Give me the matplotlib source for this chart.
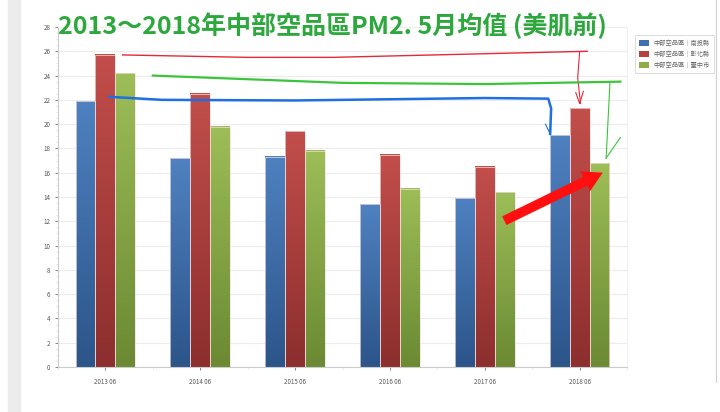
import numpy as np
import matplotlib
matplotlib.use("Agg")
import matplotlib.pyplot as plt
from matplotlib.colors import LinearSegmentedColormap
from matplotlib.lines import Line2D
from matplotlib.patches import Patch

plt.rcParams['font.family'] = ['Noto Sans CJK TC', 'DejaVu Sans']

months = ["2013 06", "2014 06", "2015 06", "2016 06", "2017 06", "2018 06"]
series_names = ["中部空品區｜南投縣", "中部空品區｜彰化縣", "中部空品區｜臺中市"]
nantou = [21.9, 17.2, 17.3, 13.4, 13.9, 19.1]
changhua = [25.7, 22.5, 19.4, 17.5, 16.5, 21.3]
taichung = [24.2, 19.8, 17.8, 14.7, 14.4, 16.8]
title = "2013～2018年中部空品區PM2. 5月均值 (美肌前)"

# (top colour, bottom colour) for the gradient bars
grad = [("#4f81c0", "#2c558a"), ("#c24e4b", "#8c2f2e"), ("#9cbd57", "#6b8a33")]
legend_cols = ["#3f6fae", "#b6403d", "#8cad48"]

fig = plt.figure(figsize=(7.2, 4.12), dpi=100)
# screenshot frame
fig.patches.append(plt.Rectangle((8 / 720, 0), 12 / 720, 1, transform=fig.transFigure,
                                 color="#ececec", zorder=0))
fig.lines.append(Line2D([716 / 720, 716 / 720], [1, 1 - 382 / 412], transform=fig.transFigure,
                        color="#d0d0d0", lw=0.8))

ax = fig.add_axes([58 / 720, 1 - 367 / 412, 569 / 720, 340 / 412])
x = np.arange(len(months))
w = 0.21
data = [nantou, changhua, taichung]
for i, vals in enumerate(data):
    cmap = LinearSegmentedColormap.from_list("g%d" % i, [grad[i][1], grad[i][0]])
    g = np.linspace(0, 1, 64).reshape(-1, 1)
    for xi, v in zip(x, vals):
        x0 = xi + (i - 1) * w - w / 2
        ax.imshow(g, cmap=cmap, extent=[x0, x0 + w, 0, v], origin="lower",
                  aspect="auto", zorder=2)
        ax.add_patch(plt.Rectangle((x0, 0), w, v, fill=False, edgecolor="#f2dede",
                                   lw=0.5, zorder=3))

ax.set_xlim(-0.5, 5.5)
ax.set_ylim(0, 28)
ax.set_yticks(np.arange(0, 29, 2))
ax.set_yticks(np.arange(0, 28.1, 0.5), minor=True)
ax.set_xticks(x)
ax.set_xticklabels(months)
ax.set_xticks(np.arange(-0.5, 5.6, 0.5), minor=True)
ax.tick_params(labelsize=4.5, colors="#555555", length=2, width=0.5)
ax.tick_params(which="minor", length=1.5, width=0.4, colors="#cccccc")
ax.tick_params(axis="x", pad=6)
ax.grid(axis="y", color="#ececec", lw=0.8, zorder=0)
ax.set_axisbelow(True)
for s in ["top", "right"]:
    ax.spines[s].set_color("#eeeeee")
    ax.spines[s].set_linewidth(0.6)
for s in ["left", "bottom"]:
    ax.spines[s].set_color("#cccccc")
    ax.spines[s].set_linewidth(0.8)

# hand-drawn notes
rx = x[-1]
ax.plot([x[0] + 0.18, 1.5, 2.4, 4.0, rx + 0.08], [changhua[0], changhua[0] - 0.2, changhua[0] - 0.2,
        changhua[0] + 0.1, changhua[0] + 0.3], color="#e8283a", lw=1.0, zorder=5)
ax.plot([rx + 0.0, rx - 0.02, rx + 0.01], [changhua[0] + 0.2, changhua[-1] + 2.5, changhua[-1] + 0.4],
        color="#e8283a", lw=0.8, zorder=5)
ax.plot([rx - 0.04, rx + 0.0, rx + 0.04], [changhua[-1] + 1.3, changhua[-1] + 0.4, changhua[-1] + 1.4],
        color="#e8283a", lw=0.8, zorder=5)

ax.plot([x[0] + 0.5, 1.5, 2.5, 4.0, rx + 0.43], [taichung[0] - 0.2, taichung[0] - 0.5, taichung[0] - 0.8,
        taichung[0] - 0.9, taichung[0] - 0.7], color="#3cc43c", lw=1.6, zorder=5)
ax.plot([rx + 0.32, rx + 0.30, rx + 0.28], [taichung[0] - 0.8, taichung[-1] + 3.5, taichung[-1] + 0.4],
        color="#3cc43c", lw=0.8, zorder=5)
ax.plot([rx + 0.28, rx + 0.43], [taichung[-1] + 0.4, taichung[-1] + 2.1], color="#3cc43c", lw=0.8, zorder=5)

ax.plot([x[0] + 0.04, 0.6, 2.0, 4.0, rx - 0.33, rx - 0.30, rx - 0.31],
        [nantou[0] + 0.35, nantou[0] + 0.1, nantou[0] + 0.05, nantou[0] + 0.25, nantou[0] + 0.2,
         nantou[0] - 0.6, nantou[-1] + 0.1], color="#1e6fe0", lw=1.8, zorder=5)
ax.plot([rx - 0.36, rx - 0.31], [nantou[-1] + 0.9, nantou[-1] + 0.1], color="#1e6fe0", lw=0.8, zorder=5)

ax.annotate("", xy=(rx + 0.27, taichung[-1] - 0.7), xytext=(rx - 0.82, nantou[-2] - 1.95),
            arrowprops=dict(arrowstyle="simple,head_width=1.6,head_length=1.4,tail_width=0.7",
                            color="#ff1010", lw=0), zorder=6)

fig.text(58 / 720, 1 - 26 / 412, title, fontsize=18, fontweight="bold", color="#2da83c",
         va="center", ha="left")

handles = [Patch(facecolor=c, edgecolor="none") for c in legend_cols]
leg = fig.legend(handles, series_names, loc="upper left", bbox_to_anchor=(632 / 720, 1 - 32 / 412),
                 fontsize=4.5, frameon=True, fancybox=False, handlelength=1.6, handleheight=1.0,
                 borderpad=0.6, labelspacing=0.5, handletextpad=0.8)
leg.get_frame().set_edgecolor("#cccccc")
leg.get_frame().set_linewidth(0.6)
for t in leg.get_texts():
    t.set_color("#666666")

fig.savefig("out.png", dpi=100)
